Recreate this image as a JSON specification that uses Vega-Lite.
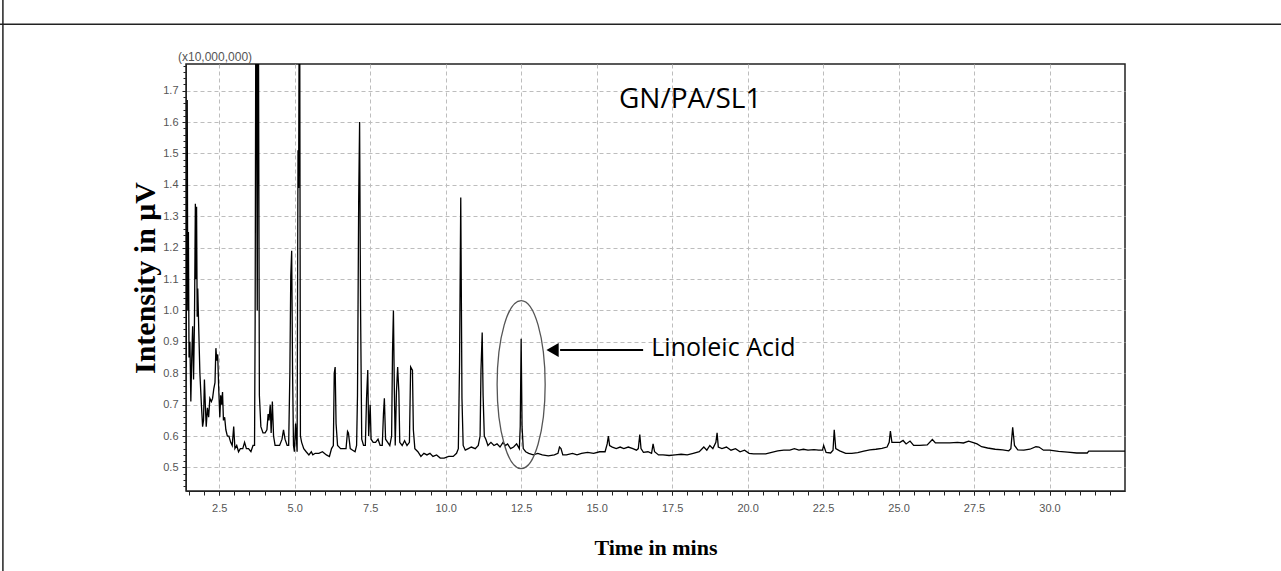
{
  "$schema": "https://vega.github.io/schema/vega-lite/v6.json",
  "width": 939,
  "height": 427,
  "autosize": {"type": "none"},
  "padding": {"left": 186, "top": 64, "right": 156, "bottom": 80},
  "background": "white",
  "config": {
    "view": {"stroke": "#222", "strokeWidth": 1.5},
    "axis": {"labelFont": "Liberation Sans", "labelFontSize": 11, "labelColor": "#555", "domainColor": "#222", "tickColor": "#222"}
  },
  "datasets": {
    "chrom": [
      {"t":1.40,"v":0.82},{"t":1.42,"v":1.10},{"t":1.44,"v":1.67},{"t":1.46,"v":1.00},{"t":1.48,"v":1.25},{"t":1.50,"v":0.85},{"t":1.53,"v":0.90},{"t":1.56,"v":0.71},{"t":1.59,"v":0.85},{"t":1.62,"v":0.95},{"t":1.65,"v":0.78},{"t":1.68,"v":0.96},{"t":1.71,"v":1.34},{"t":1.73,"v":1.10},{"t":1.75,"v":1.33},{"t":1.77,"v":0.98},{"t":1.79,"v":1.07},{"t":1.82,"v":0.95},{"t":1.86,"v":0.80},{"t":1.91,"v":0.70},{"t":1.95,"v":0.63},{"t":1.98,"v":0.65},{"t":2.01,"v":0.78},{"t":2.04,"v":0.70},{"t":2.07,"v":0.63},{"t":2.11,"v":0.69},{"t":2.15,"v":0.66},{"t":2.19,"v":0.72},{"t":2.24,"v":0.71},{"t":2.28,"v":0.72},{"t":2.32,"v":0.75},{"t":2.36,"v":0.77},{"t":2.39,"v":0.88},{"t":2.42,"v":0.84},{"t":2.45,"v":0.86},{"t":2.48,"v":0.76},{"t":2.52,"v":0.66},{"t":2.55,"v":0.73},{"t":2.58,"v":0.70},{"t":2.61,"v":0.74},{"t":2.64,"v":0.65},{"t":2.68,"v":0.66},{"t":2.72,"v":0.62},{"t":2.77,"v":0.60},{"t":2.82,"v":0.60},{"t":2.88,"v":0.58},{"t":2.93,"v":0.57},{"t":2.98,"v":0.63},{"t":3.02,"v":0.56},{"t":3.08,"v":0.57},{"t":3.14,"v":0.55},{"t":3.20,"v":0.56},{"t":3.28,"v":0.56},{"t":3.34,"v":0.58},{"t":3.40,"v":0.56},{"t":3.47,"v":0.56},{"t":3.55,"v":0.55},{"t":3.62,"v":0.57},{"t":3.67,"v":0.57},{"t":3.69,"v":0.97},{"t":3.72,"v":2.3},{"t":3.76,"v":1.0},{"t":3.79,"v":2.3},{"t":3.83,"v":0.73},{"t":3.88,"v":0.63},{"t":3.95,"v":0.61},{"t":4.02,"v":0.61},{"t":4.08,"v":0.62},{"t":4.12,"v":0.67},{"t":4.15,"v":0.65},{"t":4.19,"v":0.70},{"t":4.22,"v":0.61},{"t":4.26,"v":0.71},{"t":4.30,"v":0.60},{"t":4.35,"v":0.57},{"t":4.42,"v":0.57},{"t":4.50,"v":0.57},{"t":4.58,"v":0.59},{"t":4.63,"v":0.62},{"t":4.68,"v":0.59},{"t":4.75,"v":0.57},{"t":4.80,"v":0.57},{"t":4.84,"v":0.80},{"t":4.87,"v":1.11},{"t":4.90,"v":1.19},{"t":4.93,"v":0.80},{"t":4.96,"v":0.57},{"t":4.99,"v":0.55},{"t":5.03,"v":0.64},{"t":5.08,"v":0.55},{"t":5.11,"v":1.51},{"t":5.13,"v":1.39},{"t":5.16,"v":2.3},{"t":5.19,"v":0.60},{"t":5.23,"v":0.58},{"t":5.30,"v":0.56},{"t":5.38,"v":0.55},{"t":5.47,"v":0.54},{"t":5.55,"v":0.55},{"t":5.60,"v":0.54},{"t":5.68,"v":0.545},{"t":5.80,"v":0.545},{"t":5.92,"v":0.55},{"t":6.05,"v":0.54},{"t":6.15,"v":0.535},{"t":6.22,"v":0.56},{"t":6.28,"v":0.57},{"t":6.31,"v":0.80},{"t":6.34,"v":0.82},{"t":6.37,"v":0.64},{"t":6.42,"v":0.57},{"t":6.52,"v":0.56},{"t":6.60,"v":0.56},{"t":6.70,"v":0.56},{"t":6.75,"v":0.615},{"t":6.78,"v":0.61},{"t":6.84,"v":0.56},{"t":6.92,"v":0.555},{"t":7.00,"v":0.55},{"t":7.05,"v":0.57},{"t":7.08,"v":0.73},{"t":7.12,"v":1.36},{"t":7.15,"v":1.60},{"t":7.18,"v":1.02},{"t":7.22,"v":0.59},{"t":7.28,"v":0.57},{"t":7.34,"v":0.57},{"t":7.38,"v":0.72},{"t":7.42,"v":0.81},{"t":7.45,"v":0.60},{"t":7.50,"v":0.70},{"t":7.53,"v":0.59},{"t":7.60,"v":0.58},{"t":7.68,"v":0.58},{"t":7.76,"v":0.59},{"t":7.83,"v":0.57},{"t":7.90,"v":0.57},{"t":7.94,"v":0.67},{"t":7.97,"v":0.72},{"t":8.01,"v":0.59},{"t":8.08,"v":0.58},{"t":8.15,"v":0.57},{"t":8.21,"v":0.60},{"t":8.24,"v":0.87},{"t":8.27,"v":1.00},{"t":8.30,"v":0.75},{"t":8.33,"v":0.57},{"t":8.37,"v":0.74},{"t":8.41,"v":0.82},{"t":8.45,"v":0.74},{"t":8.48,"v":0.58},{"t":8.56,"v":0.57},{"t":8.64,"v":0.585},{"t":8.72,"v":0.57},{"t":8.80,"v":0.58},{"t":8.84,"v":0.82},{"t":8.90,"v":0.81},{"t":8.93,"v":0.62},{"t":8.98,"v":0.56},{"t":9.08,"v":0.55},{"t":9.18,"v":0.535},{"t":9.28,"v":0.545},{"t":9.38,"v":0.54},{"t":9.48,"v":0.545},{"t":9.58,"v":0.535},{"t":9.70,"v":0.54},{"t":9.82,"v":0.53},{"t":9.95,"v":0.53},{"t":10.10,"v":0.535},{"t":10.25,"v":0.535},{"t":10.36,"v":0.545},{"t":10.42,"v":0.56},{"t":10.46,"v":0.83},{"t":10.50,"v":1.36},{"t":10.54,"v":0.72},{"t":10.58,"v":0.57},{"t":10.65,"v":0.555},{"t":10.75,"v":0.56},{"t":10.85,"v":0.565},{"t":10.98,"v":0.56},{"t":11.08,"v":0.57},{"t":11.14,"v":0.60},{"t":11.17,"v":0.81},{"t":11.21,"v":0.93},{"t":11.24,"v":0.73},{"t":11.28,"v":0.60},{"t":11.33,"v":0.59},{"t":11.40,"v":0.57},{"t":11.50,"v":0.58},{"t":11.60,"v":0.57},{"t":11.70,"v":0.575},{"t":11.80,"v":0.565},{"t":11.90,"v":0.58},{"t":11.98,"v":0.57},{"t":12.05,"v":0.575},{"t":12.15,"v":0.56},{"t":12.25,"v":0.565},{"t":12.35,"v":0.575},{"t":12.44,"v":0.56},{"t":12.47,"v":0.63},{"t":12.50,"v":0.91},{"t":12.53,"v":0.63},{"t":12.57,"v":0.56},{"t":12.65,"v":0.55},{"t":12.75,"v":0.545},{"t":12.90,"v":0.54},{"t":13.05,"v":0.545},{"t":13.20,"v":0.54},{"t":13.40,"v":0.537},{"t":13.60,"v":0.54},{"t":13.72,"v":0.545},{"t":13.77,"v":0.565},{"t":13.82,"v":0.56},{"t":13.88,"v":0.54},{"t":14.00,"v":0.54},{"t":14.20,"v":0.545},{"t":14.35,"v":0.54},{"t":14.50,"v":0.545},{"t":14.70,"v":0.548},{"t":14.90,"v":0.545},{"t":15.10,"v":0.55},{"t":15.28,"v":0.55},{"t":15.35,"v":0.575},{"t":15.39,"v":0.60},{"t":15.43,"v":0.57},{"t":15.52,"v":0.565},{"t":15.65,"v":0.56},{"t":15.78,"v":0.565},{"t":15.90,"v":0.56},{"t":16.05,"v":0.565},{"t":16.20,"v":0.56},{"t":16.32,"v":0.555},{"t":16.38,"v":0.56},{"t":16.43,"v":0.605},{"t":16.47,"v":0.56},{"t":16.55,"v":0.548},{"t":16.70,"v":0.55},{"t":16.82,"v":0.545},{"t":16.87,"v":0.575},{"t":16.92,"v":0.55},{"t":17.05,"v":0.54},{"t":17.20,"v":0.54},{"t":17.40,"v":0.538},{"t":17.60,"v":0.54},{"t":17.80,"v":0.542},{"t":18.00,"v":0.54},{"t":18.20,"v":0.545},{"t":18.40,"v":0.55},{"t":18.55,"v":0.565},{"t":18.65,"v":0.555},{"t":18.75,"v":0.57},{"t":18.85,"v":0.56},{"t":18.95,"v":0.58},{"t":18.99,"v":0.61},{"t":19.03,"v":0.565},{"t":19.15,"v":0.56},{"t":19.30,"v":0.565},{"t":19.45,"v":0.555},{"t":19.60,"v":0.56},{"t":19.75,"v":0.55},{"t":19.90,"v":0.555},{"t":20.05,"v":0.545},{"t":20.20,"v":0.543},{"t":20.40,"v":0.543},{"t":20.60,"v":0.543},{"t":20.80,"v":0.548},{"t":21.00,"v":0.553},{"t":21.20,"v":0.555},{"t":21.40,"v":0.555},{"t":21.55,"v":0.56},{"t":21.70,"v":0.555},{"t":21.85,"v":0.558},{"t":22.00,"v":0.555},{"t":22.20,"v":0.557},{"t":22.35,"v":0.555},{"t":22.48,"v":0.555},{"t":22.52,"v":0.57},{"t":22.60,"v":0.548},{"t":22.75,"v":0.546},{"t":22.83,"v":0.555},{"t":22.87,"v":0.62},{"t":22.92,"v":0.56},{"t":23.05,"v":0.553},{"t":23.25,"v":0.545},{"t":23.45,"v":0.545},{"t":23.65,"v":0.547},{"t":23.85,"v":0.552},{"t":24.05,"v":0.556},{"t":24.25,"v":0.558},{"t":24.45,"v":0.561},{"t":24.62,"v":0.565},{"t":24.69,"v":0.58},{"t":24.73,"v":0.616},{"t":24.78,"v":0.58},{"t":24.90,"v":0.58},{"t":25.05,"v":0.58},{"t":25.15,"v":0.586},{"t":25.25,"v":0.575},{"t":25.38,"v":0.584},{"t":25.50,"v":0.57},{"t":25.70,"v":0.57},{"t":25.95,"v":0.572},{"t":26.12,"v":0.589},{"t":26.22,"v":0.578},{"t":26.45,"v":0.578},{"t":26.70,"v":0.578},{"t":26.95,"v":0.58},{"t":27.15,"v":0.578},{"t":27.32,"v":0.584},{"t":27.45,"v":0.58},{"t":27.60,"v":0.575},{"t":27.75,"v":0.566},{"t":27.95,"v":0.562},{"t":28.20,"v":0.558},{"t":28.45,"v":0.556},{"t":28.65,"v":0.553},{"t":28.72,"v":0.56},{"t":28.78,"v":0.628},{"t":28.84,"v":0.57},{"t":28.95,"v":0.556},{"t":29.15,"v":0.555},{"t":29.35,"v":0.558},{"t":29.55,"v":0.566},{"t":29.65,"v":0.565},{"t":29.80,"v":0.555},{"t":30.00,"v":0.555},{"t":30.30,"v":0.551},{"t":30.60,"v":0.549},{"t":30.90,"v":0.546},{"t":31.25,"v":0.546},{"t":31.30,"v":0.552},{"t":31.80,"v":0.552},{"t":32.51,"v":0.552}
    ],
    "labels": [
      {"label": "GN/PA/SL1", "t": 18.1, "v": 1.669}
    ],
    "callout": [
      {"label": "Linoleic Acid", "t": 16.81, "v": 0.881, "arrowStart": 13.79, "arrowEnd": 16.54, "arrowV": 0.874, "tip": 13.54, "peakT": 12.5, "peakV": 0.764}
    ],
    "scaleNote": [
      {"label": "(x10,000,000)"}
    ],
    "pageRules": [
      {"x1": -4.77, "x2": 37.7, "y1": 1.912, "y2": 1.912},
      {"x1": -4.664, "x2": -4.664, "y1": 0.17, "y2": 1.99}
    ]
  },
  "layer": [
    {
      "data": {"name": "chrom"},
      "mark": {"type": "line", "color": "black", "strokeWidth": 1.3, "clip": true, "interpolate": "linear"},
      "encoding": {
        "x": {
          "field": "t", "type": "quantitative",
          "scale": {"domain": [1.4, 32.5], "nice": false, "zero": false},
          "axis": {
            "orient": "bottom",
            "values": [2.5, 5, 7.5, 10, 12.5, 15, 17.5, 20, 22.5, 25, 27.5, 30],
            "format": ".1f", "grid": true, "gridColor": "#bdbdbd", "gridDash": [4, 3], "gridWidth": 1,
            "ticks": true, "tickSize": 4, "labelPadding": 7,
            "title": "Time in mins", "titleFont": "Liberation Serif", "titleFontSize": 22, "titleFontWeight": "bold", "titleColor": "black", "titlePadding": 24
          }
        },
        "y": {
          "field": "v", "type": "quantitative",
          "scale": {"domain": [0.425, 1.785], "nice": false, "zero": false},
          "axis": {
            "orient": "left",
            "values": [0.5, 0.6, 0.7, 0.8, 0.9, 1.0, 1.1, 1.2, 1.3, 1.4, 1.5, 1.6, 1.7],
            "format": ".1f", "grid": true, "gridColor": "#bdbdbd", "gridDash": [4, 3], "gridWidth": 1,
            "ticks": true, "tickSize": 4, "labelPadding": 4,
            "title": "Intensity in μV", "titleFont": "Liberation Serif", "titleFontSize": 30, "titleFontWeight": "bold", "titleColor": "black", "titlePadding": 2
          }
        }
      }
    },
    {
      "data": {"name": "scaleNote"},
      "mark": {"type": "text", "align": "left", "baseline": "middle", "dx": -8, "dy": -7, "font": "Liberation Sans", "fontSize": 12, "color": "#555"},
      "encoding": {
        "text": {"field": "label"},
        "x": {
          "datum": 1.4, "type": "quantitative",
          "axis": {
            "orient": "bottom", "labels": false, "grid": false, "domain": false, "ticks": true, "tickSize": 4, "title": null,
            "values": [1.5, 2, 2.5, 3, 3.5, 4, 4.5, 5, 5.5, 6, 6.5, 7, 7.5, 8, 8.5, 9, 9.5, 10, 10.5, 11, 11.5, 12, 12.5, 13, 13.5, 14, 14.5, 15, 15.5, 16, 16.5, 17, 17.5, 18, 18.5, 19, 19.5, 20, 20.5, 21, 21.5, 22, 22.5, 23, 23.5, 24, 24.5, 25, 25.5, 26, 26.5, 27, 27.5, 28, 28.5, 29, 29.5, 30, 30.5, 31, 31.5, 32]
          }
        },
        "y": {
          "datum": 1.785, "type": "quantitative",
          "axis": {
            "orient": "left", "labels": false, "grid": false, "domain": false, "ticks": true, "tickSize": 3, "title": null,
            "values": [0.44, 0.46, 0.48, 0.5, 0.52, 0.54, 0.56, 0.58, 0.6, 0.62, 0.64, 0.66, 0.68, 0.7, 0.72, 0.74, 0.76, 0.78, 0.8, 0.82, 0.84, 0.86, 0.88, 0.9, 0.92, 0.94, 0.96, 0.98, 1.0, 1.02, 1.04, 1.06, 1.08, 1.1, 1.12, 1.14, 1.16, 1.18, 1.2, 1.22, 1.24, 1.26, 1.28, 1.3, 1.32, 1.34, 1.36, 1.38, 1.4, 1.42, 1.44, 1.46, 1.48, 1.5, 1.52, 1.54, 1.56, 1.58, 1.6, 1.62, 1.64, 1.66, 1.68, 1.7, 1.72, 1.74, 1.76, 1.78]
          }
        }
      }
    },
    {
      "data": {"name": "labels"},
      "mark": {"type": "text", "align": "center", "baseline": "middle", "font": "Open Sans", "fontSize": 28, "color": "black"},
      "encoding": {
        "text": {"field": "label"},
        "x": {"field": "t", "type": "quantitative", "axis": null},
        "y": {"field": "v", "type": "quantitative", "axis": null}
      }
    },
    {
      "data": {"name": "callout"},
      "mark": {"type": "text", "align": "left", "baseline": "middle", "font": "Open Sans", "fontSize": 25, "color": "black"},
      "encoding": {
        "text": {"field": "label"},
        "x": {"field": "t", "type": "quantitative", "axis": null},
        "y": {"field": "v", "type": "quantitative", "axis": null}
      }
    },
    {
      "data": {"name": "callout"},
      "mark": {"type": "rule", "color": "black", "strokeWidth": 2},
      "encoding": {
        "x": {"field": "arrowStart", "type": "quantitative", "axis": null},
        "x2": {"field": "arrowEnd"},
        "y": {"field": "arrowV", "type": "quantitative", "axis": null}
      }
    },
    {
      "data": {"name": "callout"},
      "mark": {"type": "point", "shape": "triangle-left", "filled": true, "color": "black", "size": 200, "opacity": 1},
      "encoding": {
        "x": {"field": "tip", "type": "quantitative", "axis": null},
        "y": {"field": "arrowV", "type": "quantitative", "axis": null}
      }
    },
    {
      "data": {"name": "callout"},
      "mark": {"type": "point", "shape": "M-0.286,0A0.286,1 0 1,1 0.286,0A0.286,1 0 1,1 -0.286,0Z", "filled": false, "stroke": "#555", "strokeWidth": 1.3, "size": 28224, "opacity": 1},
      "encoding": {
        "x": {"field": "peakT", "type": "quantitative", "axis": null},
        "y": {"field": "peakV", "type": "quantitative", "axis": null}
      }
    },
    {
      "data": {"name": "pageRules"},
      "mark": {"type": "rule", "color": "#222", "strokeWidth": 1.5, "clip": false},
      "encoding": {
        "x": {"field": "x1", "type": "quantitative", "axis": null},
        "x2": {"field": "x2"},
        "y": {"field": "y1", "type": "quantitative", "axis": null},
        "y2": {"field": "y2"}
      }
    }
  ],
  "resolve": {"axis": {"x": "independent", "y": "independent"}}
}
